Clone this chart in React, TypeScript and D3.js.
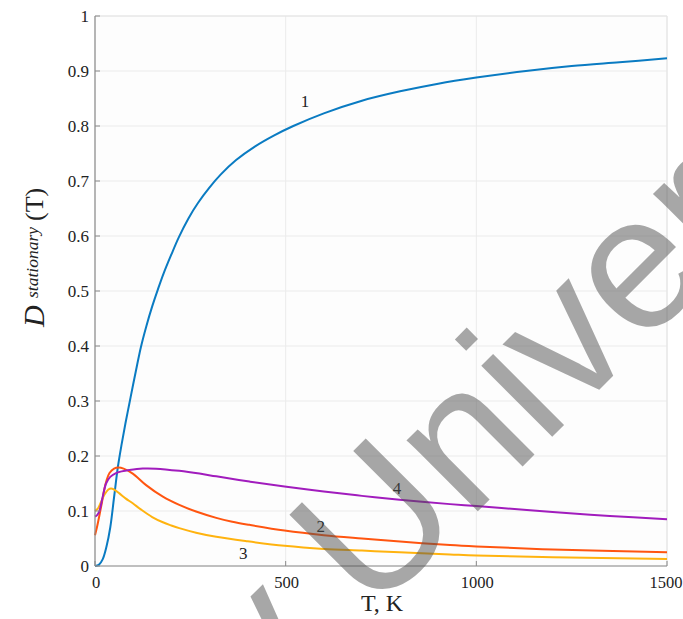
import React from "react";
import * as d3 from "d3";

const xTicks = [0, 500, 1000, 1500];
const yTicks = [0, 0.1, 0.2, 0.3, 0.4, 0.5, 0.6, 0.7, 0.8, 0.9, 1];
const yTickLabels = ["0", "0.1", "0.2", "0.3", "0.4", "0.5", "0.6", "0.7", "0.8", "0.9", "1"];

// Curve 1 (blue)
const t1 = [0, 10, 20, 30, 40, 50, 60, 70, 80, 90, 100, 110, 120, 135, 150, 165, 180, 200, 220, 245, 270, 300, 330, 370, 420, 470, 520, 600, 700, 800, 900, 1000, 1130, 1250, 1375, 1500];
const d1 = [0, 0.002, 0.012, 0.035, 0.07, 0.125, 0.18, 0.222, 0.26, 0.295, 0.33, 0.364, 0.397, 0.437, 0.472, 0.503, 0.532, 0.566, 0.598, 0.632, 0.66, 0.688, 0.712, 0.738, 0.763, 0.783, 0.8, 0.823, 0.846, 0.863, 0.877, 0.888, 0.9, 0.909, 0.916, 0.923];
// Curve 2 (orange)
const t2 = [0, 5, 11, 18, 24, 30, 38, 50, 62, 75, 99, 134, 178, 221, 265, 318, 360, 405, 497, 600, 700, 800, 931, 1000, 1200, 1500];
const d2 = [0.056, 0.07, 0.09, 0.115, 0.138, 0.155, 0.169, 0.177, 0.179, 0.177, 0.168, 0.147, 0.126, 0.111, 0.099, 0.0875, 0.0805, 0.0748, 0.0645, 0.056, 0.05, 0.0445, 0.038, 0.0355, 0.03, 0.025];
// Curve 3 (yellow)
const t3 = [0, 8, 15, 25, 35, 42, 50, 64, 80, 99, 120, 150, 178, 200, 221, 265, 318, 400, 497, 600, 700, 799, 931, 1000, 1200, 1500];
const d3v = [0.1, 0.105, 0.115, 0.13, 0.139, 0.141, 0.139, 0.132, 0.123, 0.114, 0.103, 0.089, 0.0795, 0.0737, 0.0688, 0.0605, 0.053, 0.0448, 0.0366, 0.031, 0.028, 0.025, 0.021, 0.019, 0.0158, 0.0127];
// Curve 4 (purple)
const t4 = [0, 5, 11, 20, 29, 40, 55, 70, 90, 125, 160, 221, 274, 318, 405, 497, 600, 700, 799, 931, 1000, 1100, 1200, 1350, 1500];
const d4 = [0.09, 0.092, 0.099, 0.125, 0.15, 0.162, 0.169, 0.172, 0.1745, 0.1772, 0.177, 0.173, 0.168, 0.163, 0.1535, 0.1445, 0.1355, 0.1275, 0.1205, 0.1125, 0.109, 0.1035, 0.098, 0.091, 0.085];

const seriesNames = ["1", "2", "3", "4"];
const seriesColors = ["#0a7bc2", "#ff5510", "#ffb30f", "#a11cbd"];
const labelT = [551, 592, 389, 792];
const labelD = [0.845, 0.073, 0.024, 0.142];

export default function App() {
  const W = 683, H = 619;
  const x = d3.scaleLinear().domain([0, 1500]).range([95, 667]);
  const y = d3.scaleLinear().domain([0, 1]).range([566, 16]);
  const line = d3.line<[number, number]>().x(d => x(d[0])).y(d => y(d[1])).curve(d3.curveCatmullRom.alpha(0.5));
  const series: [number, number][][] = [
    t1.map((t, i) => [t, d1[i]]),
    t2.map((t, i) => [t, d2[i]]),
    t3.map((t, i) => [t, d3v[i]]),
    t4.map((t, i) => [t, d4[i]]),
  ];
  const font = "'Liberation Serif', 'Times New Roman', serif";
  const x0 = x(0), x1 = x(1500), y0 = y(0), y1 = y(1);
  return (
    <svg width={W} height={H} style={{ position: "absolute", left: 0, top: 0, background: "#fff" }} fontFamily={font}>
      <rect x={x0} y={y1} width={x1 - x0} height={y0 - y1} fill="#fdfdfd" />
      {yTicks.map(v => (
        <line key={"gy" + v} x1={x0} x2={x1} y1={y(v)} y2={y(v)} stroke="#ebebeb" strokeWidth={1} />
      ))}
      {xTicks.map(v => (
        <line key={"gx" + v} x1={x(v)} x2={x(v)} y1={y0} y2={y1} stroke="#ebebeb" strokeWidth={1} />
      ))}
      <line x1={x0} x2={x1} y1={y1} y2={y1} stroke="#e4e4e4" strokeWidth={1} />
      <line x1={x1} x2={x1} y1={y1} y2={y0} stroke="#e4e4e4" strokeWidth={1} />
      {series.map((s, i) => (
        <path key={"s" + i} d={line(s) || ""} fill="none" stroke={seriesColors[i]} strokeWidth={2} />
      ))}
      <line x1={x0} x2={x0} y1={y0} y2={y1} stroke="#8a8a8a" strokeWidth={1.2} />
      <line x1={x0} x2={x1} y1={y0} y2={y0} stroke="#8a8a8a" strokeWidth={1.2} />
      {yTicks.map(v => (
        <line key={"ty" + v} x1={x0} x2={x0 + 5} y1={y(v)} y2={y(v)} stroke="#8a8a8a" strokeWidth={1} />
      ))}
      {xTicks.map(v => (
        <line key={"tx" + v} x1={x(v)} x2={x(v)} y1={y0} y2={y0 - 5} stroke="#8a8a8a" strokeWidth={1} />
      ))}
      {yTicks.map((v, i) => (
        <text key={"ly" + v} x={89} y={y(v)} dy="0.35em" textAnchor="end" fontSize={17} fontFamily={font} fill="#222">{yTickLabels[i]}</text>
      ))}
      {xTicks.map(v => (
        <text key={"lx" + v} x={v === 1500 ? x(v) - 1 : x(v) + 1} y={588} textAnchor="middle" fontSize={16.5} fontFamily={font} fill="#222">{String(v)}</text>
      ))}
      <text x={382} y={611} textAnchor="middle" fontSize={24} fontFamily={font} fill="#222">T, K</text>
      <text transform="translate(44,327) rotate(-90)" fontSize={30} fontStyle="italic" fontFamily={font} fill="#222">D</text>
      <text transform="translate(38,298) rotate(-90)" fontSize={17.5} fontStyle="italic" fontFamily={font} fill="#222">stationary</text>
      <text transform="translate(43,221) rotate(-90)" fontSize={26} fontFamily={font} fill="#222">(T)</text>
      {seriesNames.map((n, i) => (
        <text key={"n" + n} x={x(labelT[i])} y={y(labelD[i])} dy="0.35em" textAnchor="middle" fontSize={17} fontFamily={font} fill="#222">{n}</text>
      ))}
      <text transform="translate(267,722) rotate(-45)" fontSize={190} fontFamily="'Liberation Sans', Arial, sans-serif" fill="#505050" fillOpacity={0.5}>y Univer</text>
    </svg>
  );
}
